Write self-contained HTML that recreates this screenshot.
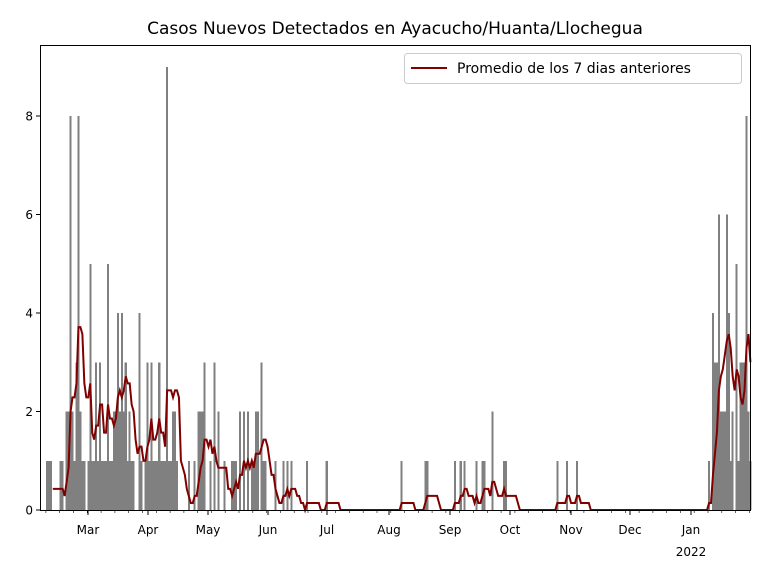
<!DOCTYPE html>
<html><head><meta charset="utf-8"><style>
html,body{margin:0;padding:0;background:#fff;}
svg{display:block;font-family:"DejaVu Sans","Liberation Sans",sans-serif;}
</style></head><body>
<svg id="c" width="768" height="576" viewBox="0 0 768 576" xmlns="http://www.w3.org/2000/svg">
<rect width="768" height="576" fill="#fff"/>
<text x="395" y="34" font-size="17" text-anchor="middle">Casos Nuevos Detectados en Ayacucho/Huanta/Llochegua</text>
<g id="bars" shape-rendering="crispEdges"></g>
<polyline id="avg" fill="none" stroke="#800000" stroke-width="2"/>
<rect x="40.5" y="45.5" width="710" height="465" fill="none" stroke="#000" stroke-width="1"/>
<g id="ticks" font-size="12" fill="#000"></g>
<rect x="404.5" y="53.5" width="337" height="30" rx="3" fill="#fff" fill-opacity="0.8" stroke="#ccc"/>
<line x1="411" y1="68" x2="447" y2="68" stroke="#800000" stroke-width="2"/>
<text x="457" y="73" font-size="14">Promedio de los 7 dias anteriores</text>
</svg>
<script>
var N=361,v=new Array(N).fill(0);
function s(d,a){for(var i=0;i<a.length;i++)v[d+i]=a[i];}
s(3,[1,1,1]);s(10,[1,1]);
s(13,[2,2,8,2,1,3,8,2,1,1,0,1,5,1,1,3,1,3,1,1,1,5,1,1,2,2,4,2,4,2,3,1,2,1,1,0,0,4,1,0,1,3,1,3,1,1,1,3,1,1,1,9,1,1,2,2,1,0]);
s(75,[1]);s(78,[1]);s(80,[2,2,2,3]);s(86,[1]);s(88,[3]);s(90,[2]);s(93,[1]);s(97,[1,1,1]);s(101,[2]);s(103,[2]);s(105,[2]);s(107,[1,1,2,2]);s(112,[3,1,1]);
s(119,[1]);s(123,[1]);s(125,[1]);s(127,[1]);s(135,[1]);s(145,[1]);s(183,[1]);s(195,[1,1]);s(210,[1]);s(213,[1]);s(215,[1]);s(221,[1]);s(224,[1,1]);s(229,[2]);s(235,[1,1]);
s(262,[1]);s(267,[1]);s(272,[1]);
s(339,[1,0,4,3,3,6,2,2,2,6,4,1,2,0,5,1,3,3,3,8,2,1]);
var X0=40,dx=1.9706,Y0=510,u=49.25;
var g=document.getElementById('bars'),h='';
for(var d=0;d<N;d++){if(v[d]>0){h+='<rect x="'+(X0+d*dx).toFixed(2)+'" y="'+(Y0-v[d]*u).toFixed(2)+'" width="'+(dx+0.05).toFixed(2)+'" height="'+(v[d]*u).toFixed(2)+'" fill="#808080"/>';}}
g.innerHTML=h;
var pts=[];
for(var d=6;d<N;d++){var m=0;for(var k=0;k<7;k++)m+=v[d-k];m/=7;pts.push((X0+d*dx+1).toFixed(2)+','+(Y0-m*u).toFixed(2));}
document.getElementById('avg').setAttribute('points',pts.join(' '));
var t='',tk=document.getElementById('ticks');
[0,2,4,6,8].forEach(function(y){var yy=Y0-y*u;t+='<line x1="36" y1="'+yy+'" x2="40" y2="'+yy+'" stroke="#000"/><text x="33" y="'+(yy+4.5)+'" text-anchor="end">'+y+'</text>';});
var mon=[["Mar",88],["Apr",148],["May",208],["Jun",268],["Jul",327],["Aug",389],["Sep",450],["Oct",510],["Nov",571],["Dec",630],["Jan",691]];
mon.forEach(function(m){t+='<line x1="'+m[1]+'" y1="510" x2="'+m[1]+'" y2="515" stroke="#000"/><text x="'+m[1]+'" y="534" text-anchor="middle">'+m[0]+'</text>';});
t+='<text x="691" y="556" text-anchor="middle">2022</text>';
for(var d=0;d<N;d+=7){var x=X0+(d+3)*dx;t+='<line x1="'+x.toFixed(1)+'" y1="510" x2="'+x.toFixed(1)+'" y2="513" stroke="#000" stroke-width="0.6"/>';}
tk.innerHTML=t;
</script>
</body></html>
